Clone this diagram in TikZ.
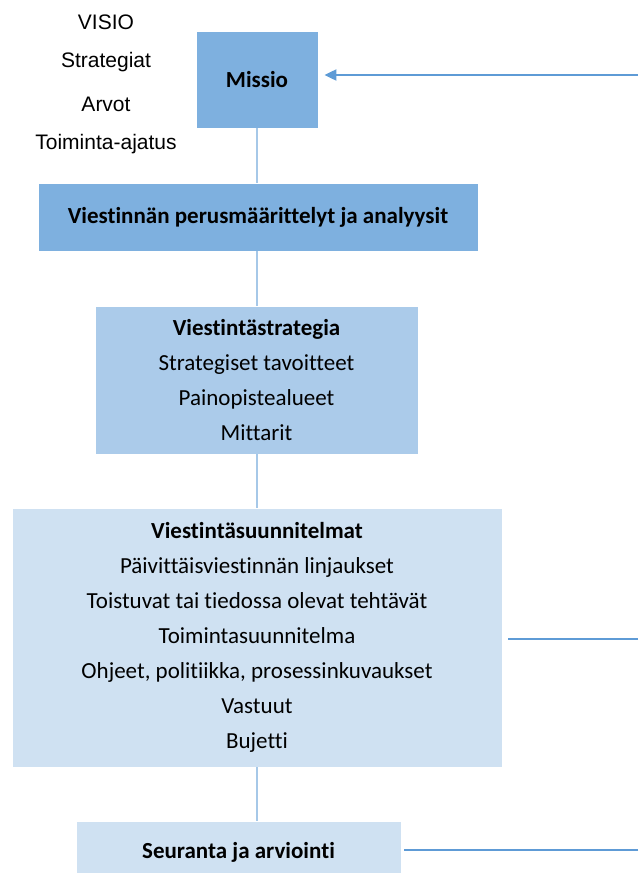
\documentclass[tikz,border=0pt]{standalone}
\usepackage{fontspec}
\setmainfont{Carlito}[Ligatures=NoCommon]
\newfontfamily\arialfont{Liberation Sans}
\usepackage{tikz}
\usetikzlibrary{positioning, arrows.meta}
\definecolor{darkbox}{HTML}{7EB0DF}
\definecolor{midbox}{HTML}{ABCBEA}
\definecolor{lightbox}{HTML}{CFE1F2}
\definecolor{linkline}{HTML}{A6C8E8}
\definecolor{sideline}{HTML}{5E9BD6}
\tikzset{
    >={Triangle[length=12pt, width=11pt]}, % filled arrow head
    x=1pt, y=-1pt, % one unit is one pixel of the picture
    every node/.style={font=\fontsize{23}{35}\selectfont, align=center, inner sep=0pt},
    block/.style={draw=white, line width=0.8pt, minimum width=#1}, % the boxes
    link/.style={draw=linkline, line width=1.4pt}, % lines between boxes
    side/.style={draw=sideline, line width=2pt}, % lines from the right edge
    topword/.style={font=\arialfont\fontsize{21}{24}\selectfont},
}
\begin{document}
\begin{tikzpicture}
\useasboundingbox (0,0) rectangle (638,873);
% words beside the mission
\node[topword] (visio)    at (106,22)  {VISIO};
\node[topword] (strat)    at (106,62)  {Strategiat};
\node[topword] (arvot)    at (106,104) {Arvot};
\node[topword] (ajatus)   at (106,144) {Toiminta-ajatus};
% boxes
\node[block=122pt, fill=darkbox, minimum height=97pt] (missio) at (257,79.5) {\textbf{Missio}};
\node[block=440pt, fill=darkbox, minimum height=68pt] (perus) at (258,217) {\textbf{Viestinnän perusmäärittelyt ja analyysit}};
\node[block=323pt, fill=midbox, minimum height=148pt] (strategia) at (256.5,380)
    {\textbf{Viestintästrategia}\\Strategiset tavoitteet\\Painopistealueet\\Mittarit};
\node[block=490pt, fill=lightbox, minimum height=259pt] (suunnitelmat) at (257,637.5)
    {\textbf{Viestintäsuunnitelmat}\\Päivittäisviestinnän linjaukset\\Toistuvat tai tiedossa olevat tehtävät\\Toimintasuunnitelma\\Ohjeet, politiikka, prosessinkuvaukset\\Vastuut\\Bujetti};
\node[block=325pt, fill=lightbox, minimum height=62pt] (seuranta) at (238.5,852) {\textbf{Seuranta ja arviointi}};
% free ends on the right
\coordinate (inA) at (638,75);
\coordinate (inB) at (638,639);
\coordinate (inC) at (638,850);
% connectors
\draw[link] (missio.south) -- (missio.south |- perus.north);
\draw[link] (missio.south |- perus.south) -- (missio.south |- strategia.north);
\draw[link] (missio.south |- strategia.south) -- (missio.south |- suunnitelmat.north);
\draw[link] (missio.south |- suunnitelmat.south) -- (missio.south |- seuranta.north);
\draw[side, ->] (inA) -- ([xshift=6pt]missio.east |- inA);
\draw[side] (inB) -- ([xshift=6pt]suunnitelmat.east |- inB);
\draw[side] (inC) -- ([xshift=3pt]seuranta.east |- inC);
\end{tikzpicture}
\end{document}
